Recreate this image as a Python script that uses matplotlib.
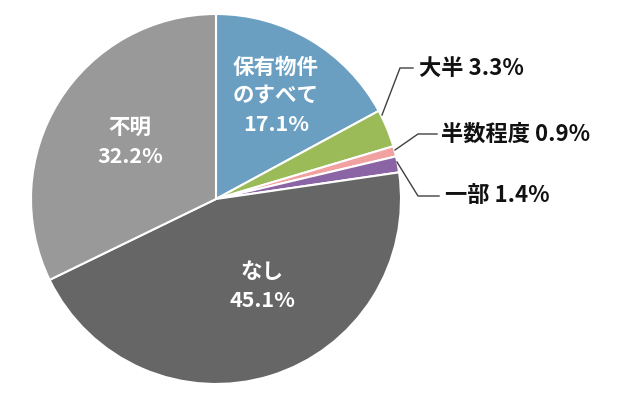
import numpy as np
import matplotlib.pyplot as plt

plt.rcParams['font.family'] = ['Noto Sans CJK JP', 'DejaVu Sans']

labels = ['保有物件\nのすべて', '大半', '半数程度', '一部', 'なし', '不明']
values = [17.1, 3.3, 0.9, 1.4, 45.1, 32.2]
colors = ['#6a9fc2', '#9bbb59', '#f2a1a1', '#8a64a4', '#666666', '#999999']

fig = plt.figure(figsize=(6.3, 3.95), dpi=100)
W, H = 630, 395
cx, cy, r = 216, 199, 185
ax = fig.add_axes([(cx - r) / W, (H - cy - r) / H, 2 * r / W, 2 * r / H])

wedges, _ = ax.pie(values, colors=colors, startangle=90, counterclock=False,
                   radius=1, center=(0, 0), frame=True,
                   wedgeprops=dict(edgecolor='white', linewidth=1.5))
ax.axis('off')
ax.set_xlim(-1, 1)
ax.set_ylim(-1, 1)


def px(x, y):
    # pixel (from top-left) -> data coords
    return (x - cx) / r, (cy - y) / r


# labels inside the big slices
inside = {0: (276, 96), 4: (262, 286), 5: (130, 142)}
for i, (x, y) in inside.items():
    dx, dy = px(x, y)
    ax.text(dx, dy, f'{labels[i]}\n{values[i]}%', color='white', fontsize=15.5,
            fontweight='bold', ha='center', va='center', linespacing=1.45)

# small slices with leader lines
leaders = {
    1: [(382, 115), (400, 68), (413, 68), (419, 68)],
    2: [(395, 150), (418, 134), (437, 134), (441, 134)],
    3: [(397, 162), (418, 196), (439, 196), (445, 196)],
}
for i, pts in leaders.items():
    xs, ys = zip(*[px(x, y) for x, y in pts[:3]])
    ax.plot(xs, ys, color='#404040', lw=1, clip_on=False)
    tx, ty = px(*pts[3])
    ax.text(tx, ty, f'{labels[i]} {values[i]}%', color='#111111', fontsize=16,
            fontweight='bold', ha='left', va='center', clip_on=False)

fig.savefig('out.png', dpi=100)
